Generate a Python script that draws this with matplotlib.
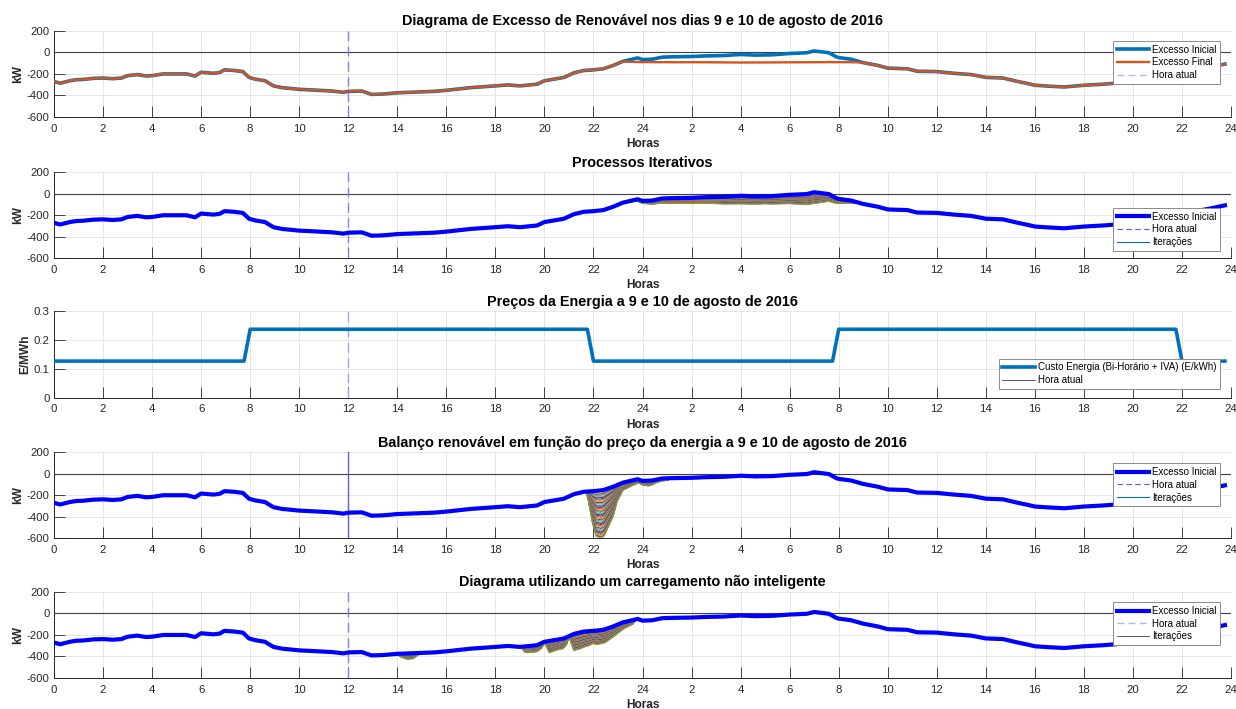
import numpy as np
import matplotlib
matplotlib.use("Agg")
import matplotlib.pyplot as plt
from matplotlib.lines import Line2D

plt.rcParams['font.family'] = ['Liberation Sans', 'DejaVu Sans']
plt.rcParams['axes.unicode_minus'] = False

# --- dados (horas 0..48, dois dias) ---
horas_inicial = [0, 0.25, 0.65, 0.9, 1.2, 1.6, 2.0, 2.4, 2.75, 3.0, 3.4, 3.75, 4.0, 4.45,
                 4.85, 5.4, 5.75, 6.0, 6.5, 6.75, 6.95, 7.35, 7.7, 7.95, 8.2, 8.6, 8.95,
                 9.3, 10.0, 10.55, 11.35, 11.8, 12.0, 12.55, 12.95, 13.4, 14.0, 14.8,
                 15.5, 16.0, 17.0, 18.0, 18.5, 19.0, 19.7, 20.0, 20.4, 20.8, 21.2, 21.6,
                 22.0, 22.4, 22.8, 23.2, 23.8, 24.0, 24.4, 24.8, 25.2, 26.0, 26.6, 27.3,
                 28.0, 28.6, 29.3, 30.0, 30.7, 31.0, 31.6, 31.9, 32.0, 32.5, 33.0, 33.6,
                 34.0, 34.8, 35.2, 36.0, 36.7, 37.4, 38.0, 38.7, 39.3, 39.7, 40.0, 40.6,
                 41.2, 42.0, 42.8, 43.3, 43.7, 44.5, 45.5, 46.5, 47.2, 47.75]
excesso_inicial = [-270, -286, -263, -254, -251, -241, -238, -244, -238, -216, -206, -219,
                   -216, -200, -200, -200, -219, -184, -194, -187, -162, -168, -178, -232,
                   -248, -263, -311, -327, -343, -349, -359, -371, -362, -359, -390, -387,
                   -375, -368, -362, -352, -327, -311, -302, -311, -295, -263, -248, -232,
                   -190, -168, -162, -152, -121, -83, -51, -67, -63, -44, -41, -38, -32,
                   -29, -19, -25, -22, -10, -3, 14, -3, -41, -48, -63, -95, -121, -146,
                   -152, -175, -178, -194, -206, -232, -238, -270, -289, -305, -314, -321,
                   -305, -295, -286, -270, -245, -205, -165, -135, -108]

# excesso final: so difere do inicial entre 23.15 h e 32.85 h
horas_final_seg = [23.15, 24, 25, 26, 27, 28, 29, 30, 31, 32, 32.85]
excesso_final_seg = [-86, -90, -91, -91, -92, -94, -93, -92, -91, -90, -92]

# curva mais funda das iteracoes (balanco em funcao do preco)
horas_fundo_preco = [21.7, 21.8, 21.95, 22.1, 22.3, 22.45, 22.55, 22.8, 22.96, 23.2,
                     23.6, 23.9, 24.25, 24.6, 25.0, 25.2]
fundo_preco = [-165, -260, -450, -580, -600, -575, -523, -400, -262, -154, -108, -92,
               -114, -80, -62, -41]

# curva mais funda das iteracoes (carregamento nao inteligente)
horas_fundo_burro = [13.95, 14.15, 14.4, 14.65, 14.85, 15.0, 19.05, 19.2, 19.3, 19.7,
                     19.9, 20.0, 20.2, 20.5, 20.75, 20.9, 21.0, 21.2, 21.5, 21.8, 22.0,
                     22.1, 22.5, 22.9, 23.3, 23.6, 23.75]
fundo_burro = [-373, -405, -425, -420, -385, -367, -313, -360, -365, -355, -320, -268,
               -365, -340, -328, -290, -215, -345, -325, -300, -278, -290, -268, -200,
               -134, -100, -55]

# precos (E/kWh)
horas_preco = [0, 7.75, 8.0, 21.75, 22.0, 31.75, 32.0, 45.75, 46.0, 47.75]
preco = [0.127, 0.127, 0.238, 0.238, 0.127, 0.127, 0.238, 0.238, 0.127, 0.127]

hora_atual = 12
n_iteracoes = 40
xticks = list(range(0, 49, 2))
xtick_labels = [str(h % 24) if (h % 24 or h == 0) else '24' for h in xticks]
kw_ticks = [-600, -400, -200, 0, 200]
preco_ticks = [0, 0.1, 0.2, 0.3]
preco_tick_labels = ['0', '0.1', '0.2', '0.3']

titulos = ['Diagrama de Excesso de Renovável nos dias 9 e 10 de agosto de 2016',
           'Processos Iterativos',
           'Preços da Energia a 9 e 10 de agosto de 2016',
           'Balanço renovável em função do preço da energia a 9 e 10 de agosto de 2016',
           'Diagrama utilizando um carregamento não inteligente']

cores_matlab = ['#0072BD', '#D95319', '#EDB120', '#7E2F8E', '#77AC30', '#4DBEEE', '#A2142F']
CINZA = '#262626'


def leque(ax, h_base, v_base, h_fundo, v_fundo, n):
    """Desenha as iteracoes entre a curva base e a curva mais funda."""
    h_base = np.asarray(h_base, float)
    v_base = np.asarray(v_base, float)
    h_fundo = np.asarray(h_fundo, float)
    prof = np.asarray(v_fundo, float) - np.interp(h_fundo, h_base, v_base)
    grade = np.union1d(h_base, h_fundo)
    grade = grade[(grade >= h_fundo[0]) & (grade <= h_fundo[-1])]
    base = np.interp(grade, h_base, v_base)
    p = np.interp(grade, h_fundo, prof)
    for k, f in enumerate(np.linspace(0, 1, n)):
        ax.plot(grade, base + f * p, color=cores_matlab[k % 7], lw=0.8, zorder=2)


def estilo(ax, titulo, ylim, yticks, ylabel, ytick_labels=None):
    ax.set_xlim(0, 48)
    ax.set_ylim(*ylim)
    ax.set_xticks(xticks)
    ax.set_xticklabels(xtick_labels)
    ax.set_yticks(yticks)
    if ytick_labels:
        ax.set_yticklabels(ytick_labels)
    ax.grid(True, color='#e2e2e2', lw=0.6)
    ax.set_axisbelow(True)
    for s in ['top', 'right']:
        ax.spines[s].set_visible(False)
    for s in ['left', 'bottom']:
        ax.spines[s].set_color(CINZA)
        ax.spines[s].set_linewidth(0.7)
    ax.tick_params(direction='in', length=8, width=0.6, color=CINZA, labelcolor=CINZA,
                   labelsize=8.2)
    ax.tick_params(axis='x', pad=5)
    ax.tick_params(axis='y', pad=3)
    ax.set_title(titulo, fontsize=10.4, fontweight='bold', pad=4)
    ax.set_xlabel('Horas', fontsize=8.6, fontweight='bold', color=CINZA, labelpad=3)
    ax.set_ylabel(ylabel, fontsize=8.6, fontweight='bold', color=CINZA, labelpad=2)


def legenda(ax, handles, labels, topo):
    leg = ax.legend(handles, labels, loc='upper right', bbox_to_anchor=(0.9907, topo),
                    fontsize=7.0, handlelength=3.3, handletextpad=0.35, borderpad=0.38,
                    labelspacing=0.28, fancybox=False, framealpha=1, borderaxespad=0)
    leg.get_frame().set_edgecolor('#8c8c8c')
    leg.get_frame().set_linewidth(0.7)


fig = plt.figure(figsize=(12.36, 7.09), dpi=100)
esq, larg, alt = 0.0437, 0.9523, 0.1214
fundos = [0.835, 0.6357, 0.4393, 0.2408, 0.0437]
axs = [fig.add_axes([esq, b, larg, alt]) for b in fundos]

# 1 - excesso inicial vs final
ax = axs[0]
estilo(ax, titulos[0], (-600, 200), kw_ticks, 'kW')
ax.axhline(0, color='#404040', lw=0.8, zorder=1)
h_fin = ([h for h in horas_inicial if h < horas_final_seg[0]] + horas_final_seg
         + [h for h in horas_inicial if h > horas_final_seg[-1]])
v_fin = ([v for h, v in zip(horas_inicial, excesso_inicial) if h < horas_final_seg[0]]
         + excesso_final_seg
         + [v for h, v in zip(horas_inicial, excesso_inicial) if h > horas_final_seg[-1]])
ax.plot(horas_inicial, excesso_inicial, color='#0072BD', lw=2.6, zorder=3)
ax.plot(h_fin, v_fin, color='#D95319', lw=1.7, zorder=4)
ax.axvline(hora_atual, color='#7f7fff', lw=1, dashes=(7, 4), zorder=2)
legenda(ax, [Line2D([], [], color='#0072BD', lw=2.6), Line2D([], [], color='#D95319', lw=1.7),
             Line2D([], [], color='#b3b3ff', lw=1, dashes=(5, 3))],
        ['Excesso Inicial', 'Excesso Final', 'Hora atual'], 0.882)

# 2 - processos iterativos
ax = axs[1]
estilo(ax, titulos[1], (-600, 200), kw_ticks, 'kW')
ax.axhline(0, color='#404040', lw=0.8, zorder=1)
leque(ax, horas_inicial, excesso_inicial, horas_final_seg, excesso_final_seg, n_iteracoes)
ax.plot(horas_inicial, excesso_inicial, color='#0000FF', lw=3, zorder=4)
ax.axvline(hora_atual, color='#7f7fff', lw=1, dashes=(7, 4), zorder=2)
legenda(ax, [Line2D([], [], color='#0000FF', lw=3),
             Line2D([], [], color='#5b5bff', lw=0.8, dashes=(5, 3)),
             Line2D([], [], color='#0072BD', lw=0.8)],
        ['Excesso Inicial', 'Hora atual', 'Iterações'], 0.584)

# 3 - precos
ax = axs[2]
estilo(ax, titulos[2], (0, 0.3), preco_ticks, 'E/MWh', preco_tick_labels)
ax.plot(horas_preco, preco, color='#0072BD', lw=2.6, zorder=3)
ax.axvline(hora_atual, color='#a0a0ff', lw=1, dashes=(7, 4), zorder=2)
legenda(ax, [Line2D([], [], color='#0072BD', lw=2.6), Line2D([], [], color='#404040', lw=0.6)],
        ['Custo Energia (Bi-Horário + IVA) (E/kWh)', 'Hora atual'], 0.45)

# 4 - balanco em funcao do preco
ax = axs[3]
estilo(ax, titulos[3], (-600, 200), kw_ticks, 'kW')
ax.axhline(0, color='#404040', lw=0.8, zorder=1)
leque(ax, horas_inicial, excesso_inicial, horas_fundo_preco, fundo_preco, n_iteracoes)
ax.plot(horas_inicial, excesso_inicial, color='#0000FF', lw=3, zorder=4)
ax.axvline(hora_atual, color='#5b5bff', lw=1, zorder=2)
legenda(ax, [Line2D([], [], color='#0000FF', lw=3),
             Line2D([], [], color='#5b5bff', lw=0.8, dashes=(5, 3)),
             Line2D([], [], color='#0072BD', lw=0.8)],
        ['Excesso Inicial', 'Hora atual', 'Iterações'], 0.87)

# 5 - carregamento nao inteligente
ax = axs[4]
estilo(ax, titulos[4], (-600, 200), kw_ticks, 'kW')
ax.axhline(0, color='#404040', lw=0.8, zorder=1)
leque(ax, horas_inicial, excesso_inicial, horas_fundo_burro, fundo_burro, n_iteracoes)
ax.plot(horas_inicial, excesso_inicial, color='#0000FF', lw=3, zorder=4)
ax.axvline(hora_atual, color='#7f7fff', lw=1, dashes=(7, 4), zorder=2)
legenda(ax, [Line2D([], [], color='#0000FF', lw=3),
             Line2D([], [], color='#b3b3ff', lw=1, dashes=(5, 3)),
             Line2D([], [], color='#404040', lw=0.6)],
        ['Excesso Inicial', 'Hora atual', 'Iterações'], 0.879)

fig.savefig('out.png', dpi=100)
